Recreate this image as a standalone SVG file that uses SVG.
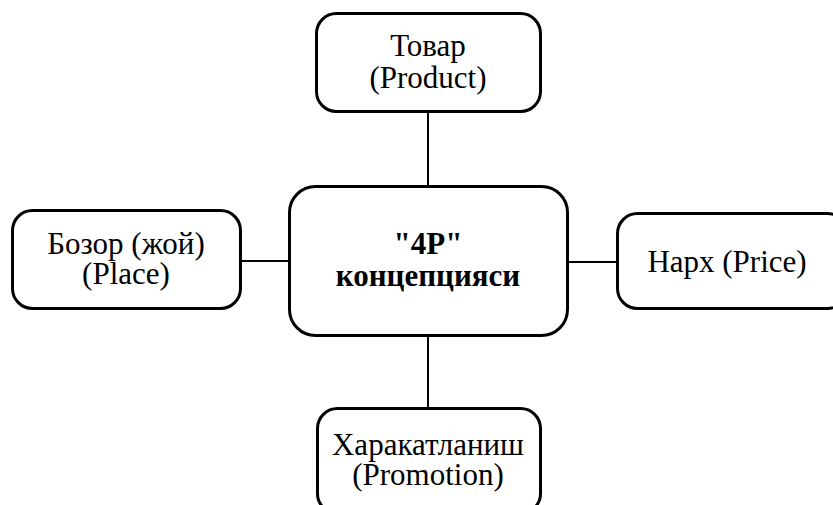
<svg xmlns="http://www.w3.org/2000/svg" width="833" height="505" viewBox="0 0 833 505">
<style>
.box{fill:#fff;stroke:#000;stroke-width:3}
.t{font-family:'Liberation Serif','Times New Roman','DejaVu Serif',serif;font-size:31px;fill:#000;text-anchor:middle}
.b{font-weight:bold}
.c{stroke:#000;stroke-width:2;fill:none}
</style>
<rect width="833" height="505" fill="#fff"/>
<g id="connectors">
<line class="c" x1="428" y1="111" x2="428" y2="186"/>
<line class="c" x1="428" y1="335" x2="428" y2="408"/>
<line class="c" x1="240" y1="261" x2="289" y2="261"/>
<line class="c" x1="567" y1="262" x2="617" y2="262"/>
</g>
<g id="center">
<rect class="box" x="289.5" y="186.5" width="278" height="149" rx="26"/>
<text class="t b" x="428" y="254" font-family="Liberation Serif">"4P"</text>
<text class="t b" x="428" y="286" font-family="Liberation Serif">концепцияси</text>
</g>
<g id="product">
<rect class="box" x="316.5" y="13.5" width="224" height="98" rx="20"/>
<text class="t" x="428" y="56" font-family="Liberation Serif">Товар</text>
<text class="t" x="428" y="88" font-family="Liberation Serif">(Product)</text>
</g>
<g id="place">
<rect class="box" x="12.5" y="210.5" width="228" height="98" rx="20"/>
<text class="t" x="126" y="254" font-family="Liberation Serif">Бозор (жой)</text>
<text class="t" x="126" y="284" font-family="Liberation Serif">(Place)</text>
</g>
<g id="price">
<rect class="box" x="617.5" y="213.5" width="230" height="95" rx="20"/>
<text class="t" x="727" y="272" font-family="Liberation Serif">Нарх (Price)</text>
</g>
<g id="promotion">
<rect class="box" x="317.5" y="408.5" width="223" height="105" rx="20"/>
<text class="t" x="428" y="455" font-family="Liberation Serif">Харакатланиш</text>
<text class="t" x="428" y="485" font-family="Liberation Serif">(Promotion)</text>
</g>
</svg>
